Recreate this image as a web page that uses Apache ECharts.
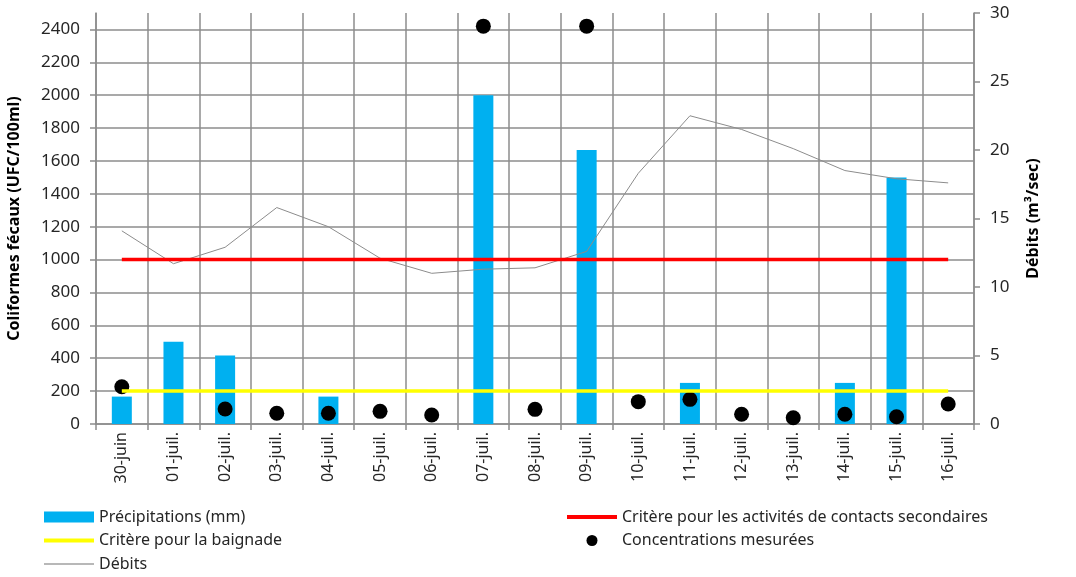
<!DOCTYPE html>
<html>
<head>
<meta charset="utf-8">
<script src="https://cdn.jsdelivr.net/npm/echarts@6/dist/echarts.min.js"></script>
<style>
  html, body { margin: 0; padding: 0; background: #fff; }
  #chart { width: 1076px; height: 577px; }
</style>
</head>
<body>
<div id="chart"></div>
<script>
// dates
var categories = ['30-juin', '01-juil.', '02-juil.', '03-juil.', '04-juil.', '05-juil.', '06-juil.',
  '07-juil.', '08-juil.', '09-juil.', '10-juil.', '11-juil.', '12-juil.', '13-juil.', '14-juil.',
  '15-juil.', '16-juil.'];

// precipitations (mm), right axis
var precipitations = [2, 6, 5, 0, 2, 0, 0, 24, 0, 20, 0, 3, 0, 0, 3, 18, 0];
// debits (m3/sec), right axis
var debits = [14.1, 11.7, 12.9, 15.8, 14.4, 12.1, 11.0, 11.3, 11.4, 12.6, 18.3, 22.5, 21.5, 20.1, 18.5, 17.9, 17.6];
// concentrations (UFC/100ml), left axis
var concentrations = [227, null, 91, 65, 65, 77, 55, 2420, 89, 2420, 136, 150, 59, 38, 59, 44, 122];
// criteres
var critereSecondaire = [1000, 1000, 1000, 1000, 1000, 1000, 1000, 1000, 1000, 1000, 1000, 1000, 1000, 1000, 1000, 1000, 1000];
var critereBaignade = [200, 200, 200, 200, 200, 200, 200, 200, 200, 200, 200, 200, 200, 200, 200, 200, 200];

var font = 'Noto Sans';
var txt = '#262626';
var gridCol = '#8c8c8c';

var chart = echarts.init(document.getElementById('chart'));

var legendBase = {
  orient: 'vertical',
  top: 507,
  height: 90,
  padding: 0,
  itemWidth: 50,
  itemHeight: 11,
  itemGap: 3.5,
  textStyle: {fontSize: 16, color: txt, lineHeight: 20, fontFamily: font}
};

chart.setOption({
  animation: false,
  textStyle: {fontFamily: font},
  grid: {
    left: 96,
    right: 102,
    top: 13,
    bottom: 153,
    containLabel: false,
    outerBoundsMode: 'none'
  },
  legend: [
    Object.assign({}, legendBase, {
      left: 44,
      data: [
        {name: 'Précipitations (mm)', icon: 'rect'},
        {name: 'Critère pour la baignade', icon: 'path://M0,0H50V4H0Z'},
        {name: 'Débits', icon: 'path://M0,0H50V1.5H0Z'}
      ]
    }),
    Object.assign({}, legendBase, {
      left: 567,
      data: [
        {name: 'Critère pour les activités de contacts secondaires', icon: 'path://M0,0H50V4H0Z'},
        {name: 'Concentrations mesurées', icon: 'circle'}
      ]
    })
  ],
  xAxis: {
    type: 'category',
    data: categories,
    axisLine: {lineStyle: {color: gridCol, width: 1.5}},
    axisTick: {show: true, length: 6, lineStyle: {color: gridCol, width: 1.5}},
    axisLabel: {rotate: 90, fontSize: 16, color: txt, margin: 8},
    splitLine: {show: true, interval: 0, lineStyle: {color: gridCol, width: 1.5}}
  },
  yAxis: [
    {
      type: 'value',
      min: 0,
      max: 2500,
      interval: 200,
      name: 'Coliformes fécaux (UFC/100ml)',
      nameLocation: 'middle',
      nameGap: 74,
      nameTextStyle: {fontSize: 16, fontWeight: 'bold', color: '#000'},
      axisLine: {show: true, lineStyle: {color: gridCol, width: 1.5}},
      axisTick: {show: true, length: 6, lineStyle: {color: gridCol, width: 1.5}},
      axisLabel: {fontSize: 17, color: txt, margin: 16, showMaxLabel: false,
        formatter: function (v) { return String(v); }},
      splitLine: {show: true, showMaxLine: false, lineStyle: {color: gridCol, width: 1.5}}
    },
    {
      type: 'value',
      min: 0,
      max: 30,
      interval: 5,
      name: 'Débits (m³/sec)',
      nameLocation: 'middle',
      nameGap: 51,
      nameTextStyle: {fontSize: 16, fontWeight: 'bold', color: '#000'},
      axisLine: {show: true, lineStyle: {color: gridCol, width: 1.5}},
      axisTick: {show: true, length: 6, lineStyle: {color: gridCol, width: 1.5}},
      axisLabel: {fontSize: 17, color: txt, margin: 16},
      splitLine: {show: false}
    }
  ],
  series: [
    {
      name: 'Précipitations (mm)',
      type: 'bar',
      yAxisIndex: 1,
      data: precipitations,
      barWidth: 20,
      itemStyle: {color: '#00b0f0'}
    },
    {
      name: 'Débits',
      type: 'line',
      yAxisIndex: 1,
      data: debits,
      symbol: 'none',
      lineStyle: {color: '#8c8c8c', width: 1},
      itemStyle: {color: '#a0a0a0'}
    },
    {
      name: 'Critère pour les activités de contacts secondaires',
      type: 'line',
      yAxisIndex: 0,
      data: critereSecondaire,
      symbol: 'none',
      lineStyle: {color: '#ff0000', width: 3.5},
      itemStyle: {color: '#ff0000'}
    },
    {
      name: 'Critère pour la baignade',
      type: 'line',
      yAxisIndex: 0,
      data: critereBaignade,
      symbol: 'none',
      lineStyle: {color: '#ffff00', width: 3.5},
      itemStyle: {color: '#ffff00'}
    },
    {
      name: 'Concentrations mesurées',
      type: 'scatter',
      yAxisIndex: 0,
      data: concentrations,
      symbol: 'circle',
      symbolSize: 15,
      itemStyle: {color: '#000', opacity: 1}
    }
  ]
});
</script>
</body>
</html>
